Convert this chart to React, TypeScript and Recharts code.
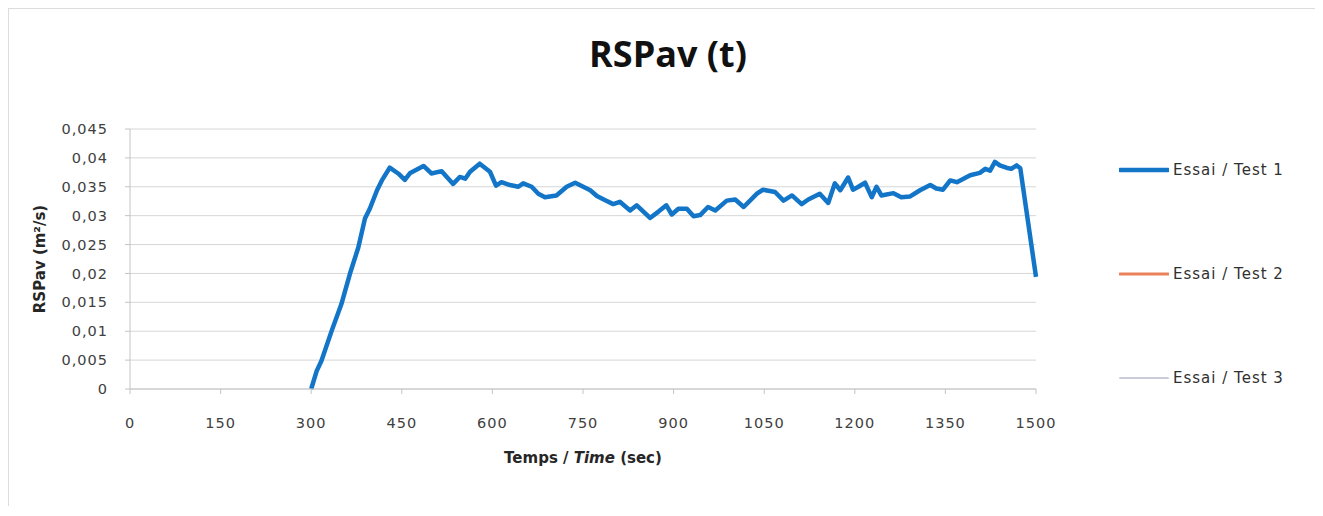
import React from 'react';
import { LineChart, Line, XAxis, YAxis, CartesianGrid, Legend, Customized } from 'recharts';

const times = [
  300, 309, 317, 334, 350, 364, 378, 389, 397, 409, 417, 430, 444, 455, 464, 486, 499, 516, 535, 546,
  555, 563, 579, 596, 606, 615, 629, 643, 651, 665, 676, 687, 706, 723, 737, 762, 773, 786, 800, 811,
  828, 839, 861, 875, 888, 897, 908, 922, 933, 944, 957, 969, 988, 1002, 1016, 1038, 1048, 1068, 1082, 1096,
  1112, 1123, 1142, 1156, 1167, 1176, 1189, 1197, 1206, 1217, 1228, 1236, 1244, 1264, 1277, 1291, 1308, 1325, 1335, 1346,
  1358, 1369, 1391, 1407, 1416, 1424, 1432, 1440, 1451, 1459, 1468, 1474, 1500,
];

const test1Values = [
  0, 0.0031, 0.0049, 0.0101, 0.0147, 0.0199, 0.0245, 0.0295, 0.0312, 0.0344, 0.0361, 0.0383, 0.0373, 0.0362, 0.0374, 0.0386, 0.0373, 0.0377, 0.0355, 0.0367,
  0.0364, 0.0376, 0.039, 0.0376, 0.0352, 0.0358, 0.0353, 0.035, 0.0356, 0.035, 0.0338, 0.0332, 0.0335, 0.035, 0.0357, 0.0344, 0.0334, 0.0327, 0.032, 0.0324,
  0.0309, 0.0318, 0.0296, 0.0307, 0.0318, 0.0302, 0.0312, 0.0312, 0.0299, 0.0301, 0.0315, 0.0309, 0.0326, 0.0328, 0.0315, 0.0338, 0.0345, 0.0341, 0.0326, 0.0335,
  0.032, 0.0328, 0.0338, 0.0322, 0.0356, 0.0344, 0.0366, 0.0345, 0.035, 0.0357, 0.0332, 0.035, 0.0335, 0.0339, 0.0332, 0.0333, 0.0344, 0.0353, 0.0347, 0.0345,
  0.0361, 0.0358, 0.037, 0.0374, 0.0381, 0.0378, 0.0393, 0.0387, 0.0383, 0.0381, 0.0387, 0.0382, 0.0194,
];

const xTicks = [0, 150, 300, 450, 600, 750, 900, 1050, 1200, 1350, 1500];
const yTicks = [0, 0.005, 0.01, 0.015, 0.02, 0.025, 0.03, 0.035, 0.04, 0.045];

const seriesNames = ['Essai / Test 1', 'Essai / Test 2', 'Essai / Test 3'];
const seriesColors = ['#1275C8', '#E9825A', '#C8CCD8'];
const seriesWidths = [4.5, 3, 2];

const chartTitle = 'RSPav (t)';
const yLabel = 'RSPav (m\u00B2/s)';

const data = times.map((t, i) => ({ t, test1: test1Values[i] }));

const tickFont = { fontFamily: 'DejaVu Sans', fontSize: 14.5, fill: '#404040', letterSpacing: 1 };

const fmtY = (v: number) => (v === 0 ? '0' : String(+v.toFixed(3)).replace('.', ','));

const renderLegend = (props: any) => {
  const payload = props.payload || [];
  return (
    <div>
      {payload.map((p: any, i: number) => (
        <div key={i} style={{ height: 104, display: 'flex', alignItems: 'center' }}>
          <svg width={50} height={8} style={{ display: 'block' }}>
            <line x1={1} y1={4} x2={49} y2={4} stroke={p.color} strokeWidth={seriesWidths[i]} strokeLinecap="round" />
          </svg>
          <span style={{ marginLeft: 4, fontFamily: 'DejaVu Sans', fontSize: 15, color: '#303030', letterSpacing: 1, whiteSpace: 'nowrap' }}>
            {p.value}
          </span>
        </div>
      ))}
    </div>
  );
};

const XLabel = (props: any) => {
  const vb = props.viewBox || {};
  const cx = vb.x + vb.width / 2;
  return (
    <text x={cx} y={454} textAnchor="middle" fontFamily="DejaVu Sans" fontWeight="bold" fontSize={15} fill="#262626">
      <tspan>Temps / </tspan>
      <tspan fontStyle="italic">Time</tspan>
      <tspan>  (sec)</tspan>
    </text>
  );
};

const Title = (props: any) => {
  return (
    <text x={659} y={58} textAnchor="middle" fontFamily="Open Sans" fontWeight="bold" fontSize={36} fill="#111">
      {chartTitle}
    </text>
  );
};

export default function App() {
  return (
    <div style={{ width: 1307, height: 498, borderTop: '1px solid #dcdcdc', borderLeft: '1px solid #dcdcdc', boxSizing: 'border-box', position: 'relative', background: '#fff' }}>
      <LineChart width={1306} height={497} data={data} margin={{ top: 120, right: 98, bottom: 87, left: 0 }}>
        <CartesianGrid horizontal vertical={false} stroke="#d6d6d6" strokeWidth={1} />
        <XAxis
          dataKey="t"
          type="number"
          domain={[0, 1500]}
          ticks={xTicks}
          interval={0}
          height={30}
          tick={tickFont}
          tickSize={5}
          tickMargin={24}
          stroke="#c4c4c4"
          label={<XLabel />}
        />
        <YAxis
          type="number"
          domain={[0, 0.045]}
          ticks={yTicks}
          interval={0}
          width={121}
          tickFormatter={fmtY}
          tick={tickFont}
          tickSize={5}
          tickMargin={17}
          stroke="#c4c4c4"
          label={{ value: yLabel, angle: -90, position: 'center', dx: -30, style: { fontFamily: 'DejaVu Sans', fontWeight: 'bold', fontSize: 15, fill: '#262626' } }}
        />
        <Legend
          layout="vertical"
          align="right"
          verticalAlign="top"
          content={renderLegend}
          wrapperStyle={{ left: 1110, top: 109, width: 181 }}
        />
        <Line type="linear" dataKey="test1" name={seriesNames[0]} stroke={seriesColors[0]} strokeWidth={seriesWidths[0]} dot={false} strokeLinejoin="round" isAnimationActive={false} />
        <Line type="linear" dataKey="test2" name={seriesNames[1]} stroke={seriesColors[1]} strokeWidth={seriesWidths[1]} dot={false} isAnimationActive={false} />
        <Line type="linear" dataKey="test3" name={seriesNames[2]} stroke={seriesColors[2]} strokeWidth={seriesWidths[2]} dot={false} isAnimationActive={false} />
        <Customized component={Title} />
      </LineChart>
    </div>
  );
}
